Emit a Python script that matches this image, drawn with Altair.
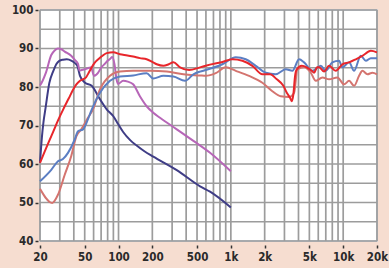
import altair as alt
import pandas as pd

# ---- data ----
navy_f = [20, 20.8, 21.5, 22.4, 24.2, 26.3, 28, 29.7, 32, 34.6, 38.3, 41, 43, 45.4, 50.3, 57.7, 68.4, 78.5, 89.9, 99.6, 110, 127, 145, 170, 204, 330, 532, 653, 1000]
navy_db = [60.3, 67, 71, 74.5, 81, 84.2, 86, 86.8, 87.1, 87.2, 86.8, 86.2, 85.5, 82.9, 81.1, 80.3, 76.8, 74.2, 72.4, 70.3, 68.3, 66.2, 64.8, 63.3, 61.9, 58.4, 54.2, 52.8, 48.7]

purple_f = [20, 21, 22.5, 25.2, 27, 28.9, 31, 33.2, 37.9, 41, 43.6, 45, 47, 50, 55, 57, 60.5, 65.7, 70, 75.4, 80, 84, 88, 92, 96, 99, 110, 121, 135, 155, 178, 204, 234, 330, 464, 653, 1000]
purple_db = [80.4, 81.5, 83.6, 88.3, 89.5, 90, 89.8, 89.2, 88.1, 87, 86, 84.3, 84.4, 84.6, 85, 85.1, 82.9, 83.7, 85, 86, 86.8, 87.3, 87.8, 86, 82, 80.8, 81.6, 81.4, 80.7, 77.6, 75, 73.3, 72, 69, 66, 62.9, 58.1]

red_f = [20, 22, 24, 26.3, 29, 32.2, 36, 39.6, 42, 45.4, 51.4, 54, 57.7, 61, 66.1, 72, 78.5, 89.9, 103, 120, 135, 155, 178, 200, 219, 251, 280, 308, 353, 425, 532, 598, 700, 840, 1032, 1266, 1554, 1908, 2234, 2564, 2934, 3146, 3366, 3486, 3602, 3730, 3862, 4280, 4742, 5254, 5508, 5858, 6102, 6760, 7490, 8592, 9838, 11292, 12952, 14826, 17614, 20000]
red_db = [60.3, 63.2, 65.8, 68.5, 71.4, 74.2, 77, 79.4, 80.6, 81.6, 82.5, 83.6, 85.1, 86.2, 87.2, 88.1, 88.8, 89, 88.5, 88.2, 87.9, 87.5, 87.2, 86.5, 85.9, 85.5, 85.9, 86.4, 85.1, 84.4, 85.1, 85.5, 86, 86.5, 87.2, 86.8, 85.5, 83.3, 83.3, 82, 80.3, 78.5, 77.2, 76.3, 78.1, 82.9, 84.6, 85.5, 85.1, 84.2, 83.7, 85.1, 85.1, 84, 85.5, 84.2, 85.9, 86.4, 87.2, 88.1, 89.4, 89]

blue_f = [20, 25.2, 28.9, 32, 35.5, 40.7, 43.6, 48.3, 53.4, 57, 68.4, 84, 103, 135, 178, 204, 251, 308, 391, 464, 532, 598, 840, 1106, 1357, 1666, 2045, 2511, 3083, 3530, 4050, 4486, 5318, 6320, 7000, 8012, 9194, 9838, 11292, 12508, 14348, 15898, 17614, 20000]
blue_db = [55.5, 58.5, 60.7, 61.3, 62.9, 66.3, 68.5, 69, 71.6, 73.7, 78.5, 81.6, 82.7, 83, 83.6, 82.2, 82.9, 82.7, 81.6, 83.3, 84, 84.4, 85.9, 87.7, 87.2, 85.5, 83.7, 83.3, 84.6, 84.2, 87.2, 86.4, 84.2, 85.5, 84.2, 86.4, 86.8, 85.1, 86.4, 84.2, 88.1, 86.8, 87.5, 87.5]

salmon_f = [20, 25.7, 28.9, 33.2, 37.9, 42.1, 46.6, 53.4, 59.3, 68.4, 84, 103, 135, 191, 269, 378, 532, 598, 734, 900, 1106, 1452, 1908, 2342, 2782, 3300, 3656, 3911, 4486, 5148, 5702, 6530, 7490, 8880, 10186, 11292, 12508, 13856, 14826, 16426, 18200, 20000]
salmon_db = [53.6, 49.9, 52.0, 57.2, 62, 67.2, 69, 72, 74.2, 79.4, 82.9, 84, 84.2, 84.2, 84, 83.3, 83, 82.9, 83.6, 85.1, 84.2, 82.9, 81.1, 78.9, 77.6, 77.4, 78.5, 84.6, 85.1, 83.7, 81.6, 82.5, 82, 82.5, 80.7, 81.6, 80.3, 82.9, 84.2, 83.3, 83.7, 83.3]

series_names = ["navy", "purple", "salmon", "blue", "red"]
series_colors = ["#3f3d86", "#b766b8", "#d4746f", "#5b7ec3", "#e8262b"]

x_ticks = [20, 50, 100, 200, 500, 1000, 2000, 5000, 10000, 20000]
y_ticks = [40, 50, 60, 70, 80, 90, 100]
grid_f = [20, 30, 40, 50, 60, 70, 80, 90, 100, 200, 300, 400, 500, 600, 700, 800, 900,
          1000, 2000, 3000, 4000, 5000, 6000, 7000, 8000, 9000, 10000, 20000]
grid_db = [40, 45, 50, 55, 60, 65, 70, 75, 80, 85, 90, 95, 100]

# ---- tables ----
rows = []
for name, fs, ds in [("navy", navy_f, navy_db), ("purple", purple_f, purple_db),
                     ("salmon", salmon_f, salmon_db), ("blue", blue_f, blue_db),
                     ("red", red_f, red_db)]:
    for f, d in zip(fs, ds):
        rows.append({"series": name, "f": f, "db": d})
lines_df = pd.DataFrame(rows)
gx_df = pd.DataFrame({"f": grid_f})
gy_df = pd.DataFrame({"db": grid_db})

FONT = "Liberation Sans Narrow, DejaVu Sans Condensed, Liberation Sans, sans-serif"

x_axis = alt.Axis(values=x_ticks, title=None, grid=False, domain=False,
                  labelExpr="datum.value >= 1000 ? (datum.value / 1000) + 'k' : '' + datum.value",
                  tickSize=3, tickWidth=1.5, tickColor="#333333", offset=4,
                  labelFont=FONT, labelFontSize=11.5, labelFontWeight="bold",
                  labelColor="#2a2a2a", labelPadding=3, labelFlush=False, labelOverlap=False)
y_axis = alt.Axis(values=y_ticks, title=None, grid=False, domain=False,
                  tickSize=3, tickWidth=1.5, tickColor="#333333", offset=2,
                  labelFont=FONT, labelFontSize=11.5, labelFontWeight="bold",
                  labelColor="#2a2a2a", labelPadding=2)

X = alt.X("f:Q", scale=alt.Scale(type="log", domain=[20, 20000], nice=False), axis=x_axis)
Y = alt.Y("db:Q", scale=alt.Scale(domain=[40, 100], nice=False, zero=False), axis=y_axis)

vgrid = alt.Chart(gx_df).mark_rule(color="#9c9c9c", strokeWidth=1.7).encode(x=X)
hgrid = alt.Chart(gy_df).mark_rule(color="#9c9c9c", strokeWidth=1.7).encode(y=Y)

lines = alt.Chart(lines_df).mark_line(strokeWidth=2, interpolate="monotone").encode(
    x=X, y=Y,
    color=alt.Color("series:N", scale=alt.Scale(domain=series_names, range=series_colors), legend=None),
    detail="series:N",
)

chart = alt.layer(vgrid, hgrid, lines).properties(
    width=337, height=231,
    autosize=alt.AutoSizeParams(type="none"),
    padding={"left": 40, "top": 10, "right": 12, "bottom": 27},
    background="#f6ddd0",
).configure_view(fill="white", stroke="#b5c6d6", strokeWidth=1.5)

chart.save("out.html", embed_options={"renderer": "svg", "actions": False})
